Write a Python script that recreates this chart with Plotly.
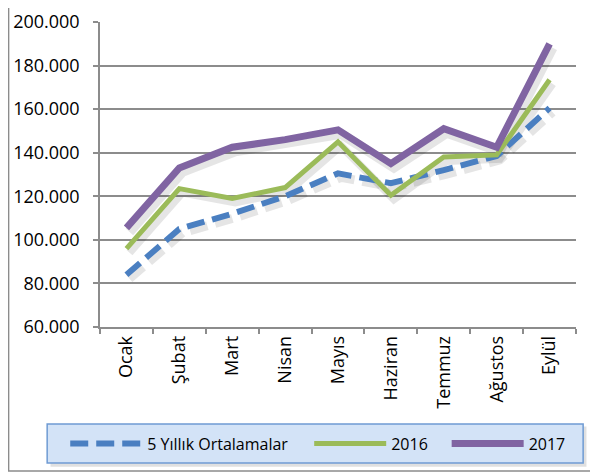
import plotly.graph_objects as go

# Aylar ve seriler
aylar = ["Ocak", "Şubat", "Mart", "Nisan", "Mayıs", "Haziran", "Temmuz", "Ağustos", "Eylül"]
ort_5yil = [84000, 105000, 112000, 120000, 130500, 126000, 132000, 138500, 160500]
y2016 = [96000, 123500, 119000, 124000, 145000, 120500, 138000, 139000, 173500]
y2017 = [105500, 133000, 142500, 146000, 150500, 135000, 151000, 142500, 190000]

seriler = [
    ("5 Yıllık Ortalamalar", ort_5yil, "#4a7fc1", 6, "18px,8px", "legend"),
    ("2016", y2016, "#9bbb59", 5, "solid", "legend2"),
    ("2017", y2017, "#8064a2", 7, "solid", "legend3"),
]

GRI = "#8c8c8c"
FONT = "Open Sans"

fig = go.Figure()

# taban eksenlerin çizilmesi için görünmez iz
fig.add_trace(go.Scatter(x=aylar, y=ort_5yil, mode="lines", line=dict(width=0),
                         showlegend=False, hoverinfo="skip"))

# Gölge (x2/y2, hafif kaydırılmış eksenler)
for ad, vals, renk, w, dash, lg in seriler:
    fig.add_trace(go.Scatter(
        x=aylar, y=vals, mode="lines", xaxis="x2", yaxis="y2",
        line=dict(color="rgba(0,0,0,0.10)", width=w + 3, dash=dash),
        showlegend=False, hoverinfo="skip",
    ))

# Asıl çizgiler (x3/y3)
for ad, vals, renk, w, dash, lg in seriler:
    fig.add_trace(go.Scatter(
        x=aylar, y=vals, mode="lines", name=ad, xaxis="x3", yaxis="y3",
        line=dict(color=renk, width=w, dash=dash),
        legend=lg,
    ))

yr = [60000, 200000]
xr = [-0.5, len(aylar) - 0.5]
dx = 3 / 476 * (xr[1] - xr[0])
dy = 4 / 305 * (yr[1] - yr[0])

leg_common = dict(orientation="h", bgcolor="rgba(0,0,0,0)", borderwidth=0,
                  font=dict(family=FONT, size=16, color="black"),
                  xref="container", yref="container",
                  yanchor="middle", y=0.0634, xanchor="left", itemwidth=72)

# sayfa gövdesinin 8px kenar boşluğu hesaba katıldı
fig.update_layout(
    width=590, height=465,
    margin=dict(l=92, r=22, t=14, b=146, autoexpand=False),
    paper_bgcolor="white", plot_bgcolor="white",
    separators=",.",
    font=dict(family=FONT, color="black"),
    xaxis=dict(type="category", categoryorder="array", categoryarray=aylar,
               range=xr, showgrid=False, showline=True, linecolor=GRI, linewidth=1.5,
               ticks="outside", ticklen=5, tickcolor=GRI, tickwidth=1.5,
               tickson="boundaries", tickangle=-90,
               tickfont=dict(family=FONT, size=18, color="black")),
    yaxis=dict(range=yr, dtick=20000, tickformat=",d", showgrid=True,
               gridcolor=GRI, gridwidth=1.5, showline=True, linecolor=GRI,
               linewidth=1.5, ticks="outside", ticklen=5, tickcolor=GRI,
               tickwidth=1.5, ticklabelstandoff=10, zeroline=False,
               tickfont=dict(family=FONT, size=18, color="black")),
    xaxis2=dict(type="category", categoryarray=aylar, categoryorder="array",
                overlaying="x", range=[xr[0] - dx, xr[1] - dx], visible=False),
    yaxis2=dict(overlaying="y", range=[yr[0] + dy, yr[1] + dy], visible=False),
    xaxis3=dict(type="category", categoryarray=aylar, categoryorder="array",
                overlaying="x", range=xr, visible=False),
    yaxis3=dict(overlaying="y", range=yr, visible=False),
    legend=dict(leg_common, x=0.097),
    legend2=dict(leg_common, x=0.5105),
    legend3=dict(leg_common, x=0.7435),
    shapes=[
        # dış çerçeve
        dict(type="rect", xref="paper", yref="paper", x0=-0.192, x1=1.08,
             y0=-0.472, y1=1.2, line=dict(color=GRI, width=1.5), layer="below"),
        # lejant gölgesi
        dict(type="rect", xref="paper", yref="paper", x0=-0.104, x1=1.022,
             y0=-0.458, y1=-0.326, line=dict(width=0),
             fillcolor="rgba(0,0,0,0.12)", layer="below"),
        # lejant kutusu
        dict(type="rect", xref="paper", yref="paper", x0=-0.111, x1=1.015,
             y0=-0.446, y1=-0.318, line=dict(color="#6f9bd3", width=1.5),
             fillcolor="#d3e3f7", layer="below"),
    ],
)

fig.write_html("out.html")
